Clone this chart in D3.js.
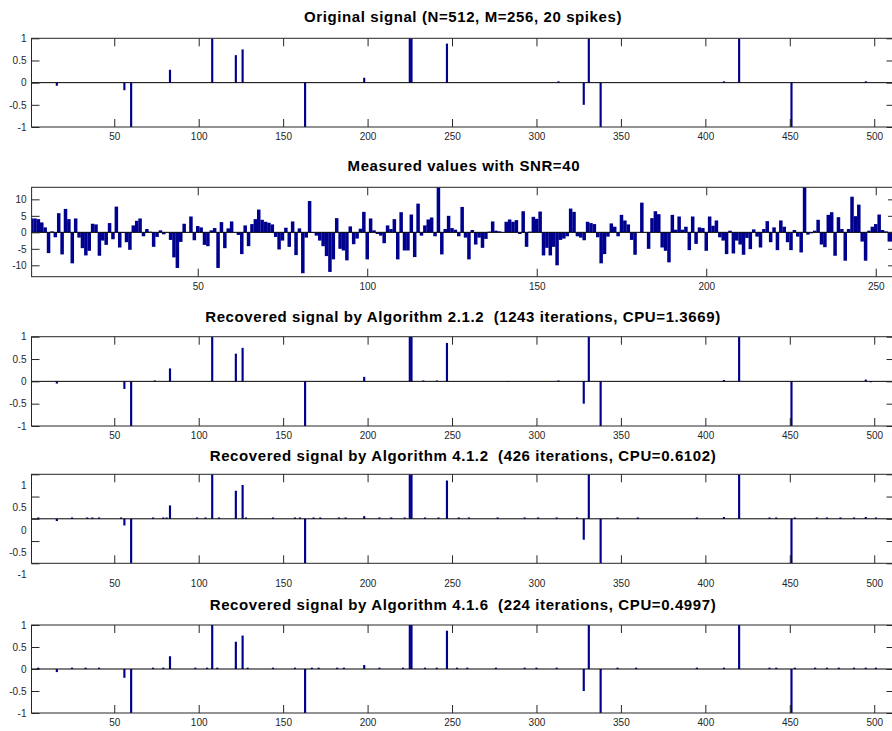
<!DOCTYPE html>
<html>
<head>
<meta charset="utf-8">
<script src="https://cdn.jsdelivr.net/npm/d3@7"></script>
<style>
  body { margin: 0; background: #fff; }
  .tick text { font-family: "Liberation Sans", Arial, sans-serif; font-size: 10px; fill: #262626; }
  .tick line { stroke: #262626; }
  .title { font-family: "Liberation Sans", Arial, sans-serif; font-size: 15px; font-weight: bold;
           letter-spacing: 0.6px; white-space: pre; fill: #000; }
</style>
</head>
<body>
<script>

// ---- data ----
var spikeIdx     = [16, 56, 60, 83, 108, 122, 126, 163, 198, 225, 226, 247, 313, 328, 331, 338, 411, 420, 451, 495];
var originalVals = [-0.07, -0.17, -1, 0.29, 1, 0.62, 0.75, -1, 0.11, 1, 1, 0.88, 0.03, -0.5, 1, -1, 0.03, 1, -1, 0.03];

// measured values y(1..255)
var measuredVals = [
  4.2, 4.2, 4.0, 3.0, 1.5, -6.3, 0.3, -1.5, 5.8, -6.7,
  7.1, 4.0, -9.4, 4.2, -1.6, -4.8, -7.0, -5.6, 2.6, 2.4,
  -7.1, -2.5, -3.8, 2.8, -2.1, 7.8, -4.6, -0.2, -3.0, -5.3,
  2.1, 3.5, 4.2, -1.2, 1.0, 0.2, -4.4, -1.4, 0.6, -0.6,
  0.1, -2.3, -7.6, -10.8, -2.9, 2.6, 0.1, 4.8, -2.4, 1.9,
  1.5, -3.8, -4.2, 0.6, 1.3, -10.8, 3.1, -4.8, 1.2, 3.3,
  0.1, -0.8, -6.6, 2.1, -4.2, 2.5, 4.0, 6.9, 3.8, 3.2,
  2.9, 2.4, -1.4, -5.2, -2.5, 1.4, -4.4, 3.3, -6.9, 1.2,
  -12.4, -1.6, 9.5, -0.2, -1.0, -2.5, -4.2, -7.2, -12.0, -8.2,
  4.3, -5.0, -5.5, -8.5, 1.8, -3.6, -1.9, 1.1, 6.2, -8.2,
  4.2, 0.6, -0.5, -1.0, -3.3, 2.1, 1.0, 4.0, -8.2, 6.1,
  -5.5, -5.5, 5.4, -7.5, 8.7, -1.0, 2.1, 3.9, 4.5, -1.2,
  13.7, -6.7, 1.0, 5.0, 1.3, 0.8, -1.2, 7.7, -1.6, -8.2,
  0.7, -3.7, -1.6, -4.7, -2.0, 0.2, 3.3, 0.5, 0.3, -0.1,
  3.2, 3.9, 3.2, 3.7, -0.5, 6.4, -4.4, 0.2, 4.7, 4.1,
  6.3, -7.0, -4.7, -7.0, -4.4, -10.0, -2.3, -1.9, -1.2, 7.2,
  6.2, -1.2, -1.6, -2.4, 3.2, 2.8, 2.5, -1.5, -9.4, -6.6,
  -1.3, 2.7, 1.7, -1.2, 5.3, 3.6, 2.4, -2.3, -6.8, 0.1,
  9.0, 0.1, -5.0, 4.3, 6.4, 5.5, -4.6, -5.6, -9.1, 5.3,
  0.8, 4.8, 0.8, 1.7, -5.4, 4.8, -3.5, 1.5, 1.3, -5.6,
  4.8, 2.0, 3.6, -1.5, -2.5, -6.6, 0.5, -6.4, -2.5, -3.7,
  -6.8, -1.7, -5.1, 0.9, -1.3, -4.6, 1.0, 3.4, -3.0, 1.5,
  -5.4, 3.6, 1.7, -3.0, -5.4, 0.7, -1.3, -6.1, 13.7, -0.7,
  -0.3, 0.5, 3.8, -3.7, -4.5, 5.3, 6.1, -7.1, 4.6, 1.0,
  -8.6, 1.0, 10.8, 4.9, 8.4, -2.8, -8.6, 0.5, 1.7, 2.5,
  5.4, 0.7, 0.3, -2.8, -2.8
];

// recovered signals as [index, value]
var rec212 = [[16,-0.05],[56,-0.17],[60,-1],[74,0.02],[83,0.29],[108,1],[122,0.62],[126,0.75],
  [163,-1],[198,0.1],[225,1],[226,1],[233,0.02],[241,0.02],[247,0.86],[283,-0.01],[313,0.02],
  [328,-0.5],[331,1],[338,-1],[411,0.03],[420,1],[451,-1],[495,0.04],[498,-0.02]];

var rec412 = [[5,0.03],[16,-0.05],[25,0.03],[34,0.03],[37,0.03],[41,0.03],[54,0.03],[56,-0.15],[60,-1],
  [73,0.03],[79,0.03],[81,0.03],[83,0.3],[99,0.03],[104,0.03],[108,1],[112,0.03],[122,0.63],[126,0.76],
  [128,0.03],[144,0.03],[157,0.03],[160,0.03],[163,-1],[168,0.03],[172,0.03],[183,0.03],[187,0.03],
  [198,0.06],[207,0.03],[214,0.03],[222,0.03],[225,1],[226,1],[234,0.03],[242,0.03],[247,0.86],
  [254,0.03],[260,0.03],[277,0.03],[293,0.03],[301,0.03],[312,0.03],[324,0.03],[328,-0.47],[331,1],
  [338,-1],[348,0.03],[360,0.03],[395,0.03],[411,0.04],[420,1],[438,0.03],[442,0.03],[451,-1],
  [453,0.03],[466,0.03],[472,0.03],[480,0.03],[488,0.03],[495,0.04],[501,0.03]];

var rec416 = [[5,0.03],[16,-0.07],[25,0.03],[33,0.03],[41,0.03],[56,-0.2],[60,-1],[73,0.03],[79,0.03],
  [83,0.29],[98,0.03],[105,0.03],[108,1],[111,0.03],[122,0.62],[126,0.76],[129,0.03],[144,0.03],
  [157,0.03],[163,-1],[167,0.03],[171,0.03],[182,0.03],[186,0.03],[198,0.09],[207,0.03],[221,0.03],
  [225,1],[226,1],[234,0.03],[241,0.03],[247,0.87],[253,0.03],[259,0.03],[276,0.03],[293,0.03],
  [300,0.03],[312,0.03],[328,-0.5],[331,1],[338,-1],[348,0.03],[359,0.03],[395,0.03],[411,0.03],
  [420,1],[438,0.03],[442,0.03],[451,-1],[453,0.03],[465,0.03],[472,0.03],[479,0.03],[488,0.03],
  [495,0.03],[501,0.03]];

var titles = [
  "Original signal (N=512, M=256, 20 spikes)",
  "Measured values with SNR=40",
  "Recovered signal by Algorithm 2.1.2  (1243 iterations, CPU=1.3669)",
  "Recovered signal by Algorithm 4.1.2  (426 iterations, CPU=0.6102)",
  "Recovered signal by Algorithm 4.1.6  (224 iterations, CPU=0.4997)"
];

var xTicksN   = [50, 100, 150, 200, 250, 300, 350, 400, 450, 500];
var xTicksM   = [50, 100, 150, 200, 250];
var yTicksSig = [-1, -0.5, 0, 0.5, 1];
var yTicksMea = [-10, -5, 0, 5, 10];

// ---- layout ----
var W = 892, H = 731;
var svg = d3.select("body").append("svg")
    .attr("width", W)
    .attr("height", H)
    .style("display", "block");

var panels = [
  {data: d3.zip(spikeIdx, originalVals), n: 512, top: 38.3, bottom: 127, titleY: 22.4,
   yDomain: [-1, 1], yTicks: yTicksSig, xTicks: xTicksN, shift: 0},
  {data: measuredVals.map(function(v, i) { return [i + 1, v]; }), n: 256, top: 187.3, bottom: 276.7, titleY: 171.4,
   yDomain: [-13.45, 13.65], yTicks: yTicksMea, xTicks: xTicksM, shift: 0},
  {data: rec212, n: 512, top: 336.7, bottom: 426, titleY: 322,
   yDomain: [-1, 1], yTicks: yTicksSig, xTicks: xTicksN, shift: 0},
  {data: rec412, n: 512, top: 474.3, bottom: 563.3, titleY: 461,
   yDomain: [-1, 1], yTicks: yTicksSig, xTicks: xTicksN, shift: 11},
  {data: rec416, n: 512, top: 625, bottom: 713, titleY: 609.5,
   yDomain: [-1, 1], yTicks: yTicksSig, xTicks: xTicksN, shift: 0}
];

var fmt = function(d) { return String(d); };
var tick = 8;

panels.forEach(function(p, k) {

  var x = d3.scaleLinear()
      .domain([1, p.n])
      .range(p.n === 512 ? [31.5, 894.5] : [31.6, 896.1]);

  var y = d3.scaleLinear()
      .domain(p.yDomain)
      .range([p.bottom, p.top]);

  var x0 = x.range()[0], x1 = x.range()[1];
  var unit = x(2) - x(1);
  // bar face (0.8 of a slot) plus its thin edge line, as matlab draws it
  var bw = unit * 0.8 + 0.8;

  var g = svg.append("g").attr("class", "panel");

  g.append("clipPath")
      .attr("id", "clip" + k)
    .append("rect")
      .attr("x", x0)
      .attr("y", p.top)
      .attr("width", x1 - x0)
      .attr("height", p.bottom - p.top);

  g.append("g")
      .attr("clip-path", "url(#clip" + k + ")")
    .selectAll("rect")
      .data(p.data)
    .enter().append("rect")
      .attr("x", function(d) { return x(d[0]) - bw / 2; })
      .attr("width", bw)
      .attr("y", function(d) { return y(Math.max(0, d[1])); })
      .attr("height", function(d) { return Math.abs(y(d[1]) - y(0)); })
      .style("fill", "#00008f");

  // baseline
  g.append("line")
      .attr("x1", x0).attr("x2", x1)
      .attr("y1", y(0)).attr("y2", y(0))
      .style("stroke", "#000")
      .style("stroke-width", 1);

  // axes with inward ticks on all four sides
  g.append("g")
      .attr("transform", "translate(0," + p.bottom + ")")
      .call(d3.axisBottom(x).tickValues(p.xTicks).tickSize(-tick).tickPadding(6 + p.shift).tickFormat(fmt));

  g.append("g")
      .attr("transform", "translate(0," + p.top + ")")
      .call(d3.axisTop(x).tickValues(p.xTicks).tickSize(-tick).tickFormat(""));

  var leftAxis = g.append("g")
      .attr("transform", "translate(" + x0 + ",0)")
      .call(d3.axisLeft(y).tickValues(p.yTicks).tickSize(-tick).tickPadding(5).tickFormat(fmt));

  g.append("g")
      .attr("transform", "translate(" + x1 + ",0)")
      .call(d3.axisRight(y).tickValues(p.yTicks).tickSize(-tick).tickFormat(""));

  g.selectAll(".domain").remove();

  if (p.shift) {
    leftAxis.selectAll("text").attr("transform", "translate(0," + p.shift + ")");
  }

  g.append("rect")
      .attr("x", x0)
      .attr("y", p.top)
      .attr("width", x1 - x0)
      .attr("height", p.bottom - p.top)
      .style("fill", "none")
      .style("stroke", "#262626")
      .style("stroke-width", 1);

  g.append("text")
      .attr("class", "title")
      .attr("x", (x0 + x1) / 2)
      .attr("y", p.titleY)
      .style("text-anchor", "middle")
      .text(titles[k]);
});

</script>
</body>
</html>
